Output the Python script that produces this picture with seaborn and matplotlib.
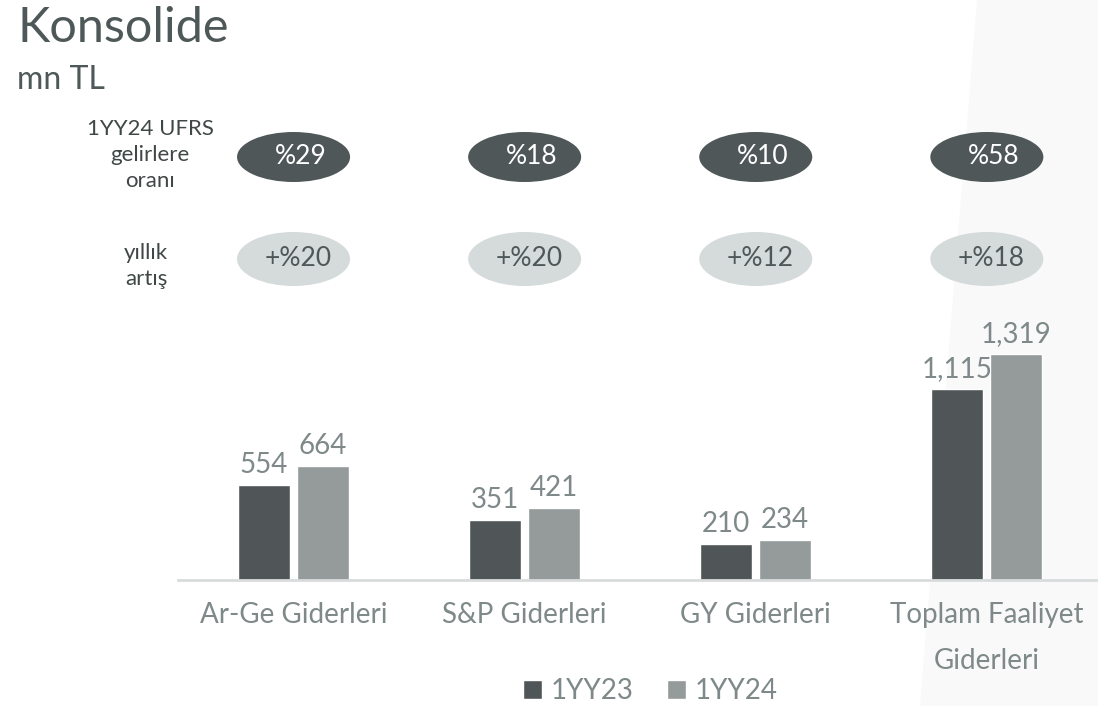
import numpy as np
import pandas as pd
import matplotlib
matplotlib.use('Agg')
import matplotlib.pyplot as plt
import matplotlib.transforms as mtransforms
from matplotlib.patches import Ellipse, Polygon
import seaborn as sns

# data
categories = ['Ar-Ge Giderleri', 'S&P Giderleri', 'GY Giderleri', 'Toplam Faaliyet\nGiderleri']
periods = ['1YY23', '1YY24']
values_1yy23 = [554, 351, 210, 1115]
values_1yy24 = [664, 421, 234, 1319]
ratio_labels = ['%29', '%18', '%10', '%58']
growth_labels = ['+%20', '+%20', '+%12', '+%18']

DARK = '#4f5758'
LIGHT = '#939c9b'
PILL_LIGHT = '#d5dada'
TEXT = '#4f5858'
LABEL = '#7f8989'

df = pd.DataFrame({
    'kategori': categories * 2,
    'donem': [periods[0]] * 4 + [periods[1]] * 4,
    'deger': values_1yy23 + values_1yy24,
})

sns.set_theme(style='white')
plt.rcParams['font.family'] = ['Lato', 'DejaVu Sans']

W, H = 1098, 706
fig = plt.figure(figsize=(W / 100, H / 100), dpi=100)

# light diagonal panel on the right
fig.patches.append(Polygon([(977 / W, 1), (1, 1), (1, 0), (920 / W, 0)],
                           closed=True, transform=fig.transFigure,
                           facecolor='#f9f9f9', edgecolor='none', zorder=-5))

ax_bottom = (H - 580) / H
ax_top = (H - 300) / H
ax = fig.add_axes([178 / W, ax_bottom, 1 - 178 / W + 0.004, ax_top - ax_bottom])
ax.patch.set_alpha(0)

sns.barplot(data=df, x='kategori', y='deger', hue='donem', order=categories,
            hue_order=periods, palette=[DARK, LIGHT], width=0.51, gap=0.12,
            ax=ax, legend=True)

ax.set_ylim(0, 1633)
ax.set_xlim(-0.5, 3.5)
for c in ax.containers:
    ax.bar_label(c, labels=[f'{v:,.0f}' for v in c.datavalues], padding=5,
                 fontsize=20, color=LABEL)

ax.set_xlabel('')
ax.set_ylabel('')
ax.set_yticks([])
ax.tick_params(axis='x', length=0, labelsize=20, labelcolor=LABEL, pad=16)
for t in ax.get_xticklabels():
    t.set_linespacing(1.95)
for s in ['top', 'right', 'left']:
    ax.spines[s].set_visible(False)
ax.spines['bottom'].set_color('#d9dcdc')
ax.spines['bottom'].set_linewidth(2)

leg = ax.legend(loc='center', bbox_to_anchor=(650 / W, (H - 691) / H),
                bbox_transform=fig.transFigure, ncol=2, frameon=False,
                fontsize=20, handlelength=0.7, handleheight=0.7,
                handletextpad=0.3, columnspacing=1.2, borderpad=0.1)
for t in leg.get_texts():
    t.set_color(LABEL)

# badges above each category
trans = mtransforms.blended_transform_factory(ax.transData, fig.transFigure)
for i, (r, g) in enumerate(zip(ratio_labels, growth_labels)):
    fig.patches.append(Ellipse((i, (H - 157) / H), width=113 / 231, height=50 / H,
                               transform=trans, facecolor=DARK, edgecolor='none'))
    fig.text(i + 0.03, (H - 157) / H, r, transform=trans, ha='center', va='center',
             fontsize=19, color='white')
    fig.patches.append(Ellipse((i, (H - 259) / H), width=113 / 231, height=54 / H,
                               transform=trans, facecolor=PILL_LIGHT, edgecolor='none'))
    fig.text(i + 0.02, (H - 259) / H, g, transform=trans, ha='center', va='center',
             fontsize=19, color=TEXT)

fig.text(17 / W, (H - 28) / H, 'Konsolide', ha='left', va='center',
         fontsize=35, color=TEXT)
fig.text(17 / W, (H - 80) / H, 'mn TL', ha='left', va='center',
         fontsize=23, color=TEXT)
fig.text(150 / W, (H - 155) / H, '1YY24 UFRS\ngelirlere\noranı', ha='center',
         va='center', fontsize=16, color='#3f4747', linespacing=1.35)
fig.text(146 / W, (H - 266) / H, 'yıllık\nartış', ha='center', va='center',
         fontsize=16, color='#3f4747', linespacing=1.35)

fig.savefig('out.png', dpi=100)
